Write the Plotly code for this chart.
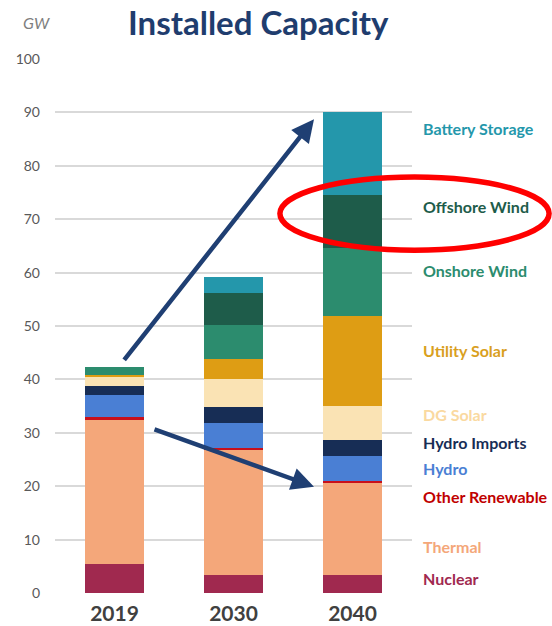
import plotly.graph_objects as go

years = ["2019", "2030", "2040"]
series_names = ["Nuclear", "Thermal", "Other Renewable", "Hydro", "Hydro Imports",
                "DG Solar", "Utility Solar", "Onshore Wind", "Offshore Wind", "Battery Storage"]
nuclear = [5.4, 3.4, 3.4]
thermal = [27.0, 23.3, 17.2]
other_renewable = [0.5, 0.45, 0.4]
hydro = [4.1, 4.6, 4.7]
hydro_imports = [1.7, 3.0, 2.9]
dg_solar = [1.9, 5.25, 6.5]
utility_solar = [0.2, 3.9, 16.8]
onshore_wind = [1.6, 6.2, 12.7]
offshore_wind = [0.0, 6.1, 9.9]
battery_storage = [0.0, 2.9, 15.5]
y_ticks = [0, 10, 20, 30, 40, 50, 60, 70, 80, 90, 100]

values = [nuclear, thermal, other_renewable, hydro, hydro_imports,
          dg_solar, utility_solar, onshore_wind, offshore_wind, battery_storage]
colors = ["#A0294F", "#F4A77A", "#C8101B", "#4A7FD4", "#172D55",
          "#FAE3B4", "#DE9D14", "#2C8C6E", "#1E5C4A", "#2497AB"]
label_colors = ["#A0294F", "#F4A77A", "#C00000", "#4A7FD4", "#172D55",
                "#FAD9A0", "#D9A01E", "#2C8C6E", "#1E5C4A", "#2497AB"]
label_y = [0.0275, 0.0867, 0.180, 0.2335, 0.282, 0.335, 0.455, 0.6036, 0.723, 0.870]

FONT = "Lato"

fig = go.Figure()
for name, vals, col in zip(series_names, values, colors):
    fig.add_trace(go.Bar(x=years, y=vals, name=name, marker=dict(color=col, line=dict(width=0)),
                         showlegend=False))

annotations = []
for name, col, yy in zip(series_names, label_colors, label_y):
    annotations.append(dict(text="<b>" + name + "</b>", x=1.026, y=yy, xref="paper", yref="paper",
                            xanchor="left", yanchor="middle", showarrow=False,
                            font=dict(family=FONT, size=16, color=col)))

annotations.append(dict(text="<b>Installed Capacity</b>", x=0.569, y=1.069, xref="paper", yref="paper",
                        xanchor="center", yanchor="middle", showarrow=False,
                        font=dict(family=FONT, size=33, color="#1F3D6E")))
annotations.append(dict(text="<i>GW</i>", x=-0.053, y=1.069, xref="paper", yref="paper",
                        xanchor="center", yanchor="middle", showarrow=False,
                        font=dict(family=FONT, size=16, color="#7F7F7F")))

# arrows
annotations.append(dict(text="", x=0.7255, y=0.887, xref="paper", yref="paper",
                        ax=-191, ay=242, axref="pixel", ayref="pixel", showarrow=True,
                        arrowhead=2, arrowsize=1, arrowwidth=4.5, arrowcolor="#1F3F73", standoff=0))
annotations.append(dict(text="", x=0.7255, y=0.199, xref="paper", yref="paper",
                        ax=-161, ay=-58, axref="pixel", ayref="pixel", showarrow=True,
                        arrowhead=2, arrowsize=1, arrowwidth=4.5, arrowcolor="#1F3F73", standoff=0))

fig.update_layout(
    width=552, height=626,
    margin=dict(l=55, r=140, t=59, b=33),
    paper_bgcolor="white", plot_bgcolor="white",
    barmode="stack", bargap=0.5,
    annotations=annotations,
    shapes=[dict(type="circle", xref="paper", yref="paper", x0=0.630, x1=1.384, y0=0.642, y1=0.779,
                 line=dict(color="#FF0000", width=5.5))],
    xaxis=dict(showgrid=False, showline=False, ticks="", ticklabelstandoff=6, automargin=False,
               tickfont=dict(family=FONT, size=21, color="#404040"),
               tickvals=years, ticktext=["<b>" + y + "</b>" for y in years]),
    yaxis=dict(range=[0, 100], tickvals=y_ticks, showgrid=True, gridcolor="#D9D9D9", gridwidth=1.5,
               zeroline=False, showline=False, ticks="", ticklabelstandoff=14, automargin=False,
               tickfont=dict(family=FONT, size=14, color="#595959")),
)

fig.write_html("out.html", config={"displayModeBar": False},
               post_script="document.body.style.margin='0px';")
